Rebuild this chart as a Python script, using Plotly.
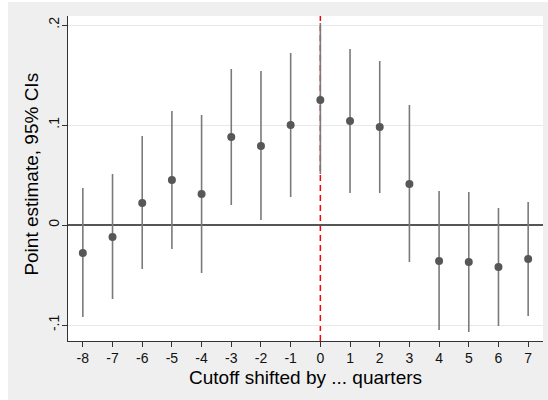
import plotly.graph_objects as go

quarters = [-8, -7, -6, -5, -4, -3, -2, -1, 0, 1, 2, 3, 4, 5, 6, 7]
estimates = [-0.028, -0.012, 0.022, 0.045, 0.031, 0.088, 0.079, 0.100, 0.125,
             0.104, 0.098, 0.041, -0.036, -0.037, -0.042, -0.034]
ci_upper = [0.037, 0.051, 0.089, 0.114, 0.110, 0.156, 0.154, 0.172, 0.202,
            0.176, 0.164, 0.120, 0.034, 0.033, 0.017, 0.023]
ci_lower = [-0.092, -0.074, -0.044, -0.024, -0.048, 0.020, 0.005, 0.028, 0.051,
            0.032, 0.032, -0.037, -0.105, -0.107, -0.101, -0.091]
y_tickvals = [-0.1, 0, 0.1, 0.2]
y_ticktext = ["-.1", "0", ".1", ".2"]
x_title = "Cutoff shifted by ... quarters"
y_title = "Point estimate, 95% CIs"

err_plus = [u - e for u, e in zip(ci_upper, estimates)]
err_minus = [e - l for e, l in zip(estimates, ci_lower)]

FONT = "Liberation Sans, Arial, Helvetica, sans-serif"

fig = go.Figure()
fig.add_trace(go.Scatter(
    x=quarters, y=estimates, mode="markers",
    marker=dict(color="#575757", size=8, line=dict(width=0)),
    error_y=dict(type="data", symmetric=False, array=err_plus, arrayminus=err_minus,
                 color="#7a7a7a", thickness=1.6, width=0),
    showlegend=False,
))

fig.add_shape(type="line", xref="x", yref="paper", x0=0, x1=0, y0=0, y1=1,
              line=dict(color="#ff0000", width=1.5, dash="6px,4px"), layer="between")

fig.add_annotation(text=x_title, xref="paper", yref="paper", x=0.501, y=-0.112,
                   xanchor="center", yanchor="middle", showarrow=False, borderpad=0,
                   font=dict(size=19, family=FONT, color="#000000"))
fig.add_annotation(text=y_title, xref="paper", yref="paper", x=-0.0758, y=0.515,
                   xanchor="center", yanchor="middle", showarrow=False, textangle=-90,
                   borderpad=0,
                   font=dict(size=19, family=FONT, color="#000000"))

fig.update_layout(
    width=540, height=398,
    margin=dict(l=60, r=5, t=14, b=59, pad=0),
    paper_bgcolor="#efefef", plot_bgcolor="#ffffff",
    font=dict(family=FONT, color="#000000"),
    xaxis=dict(
        range=[-8.5, 7.5], tickmode="array", tickvals=quarters,
        ticktext=[str(q) for q in quarters],
        ticks="outside", ticklen=5, tickwidth=1.2, tickcolor="#333333",
        showline=True, linecolor="#333333", linewidth=1.3,
        showgrid=False, zeroline=False, ticklabelstandoff=-1,
        tickfont=dict(size=14, family=FONT, color="#111111"),
    ),
    yaxis=dict(
        range=[-0.116, 0.209], tickmode="array", tickvals=y_tickvals, ticktext=y_ticktext,
        tickangle=-90, ticklabelstandoff=-3,
        ticks="outside", ticklen=5, tickwidth=1.2, tickcolor="#333333",
        showline=True, linecolor="#333333", linewidth=1.3,
        showgrid=True, gridcolor="#e8e8e8", gridwidth=1,
        zeroline=True, zerolinecolor="#555555", zerolinewidth=1.6,
        tickfont=dict(size=14, family=FONT, color="#111111"),
    ),
)

fig.write_html("out.html", post_script="document.body.style.margin='2px 0 0 8px';")
